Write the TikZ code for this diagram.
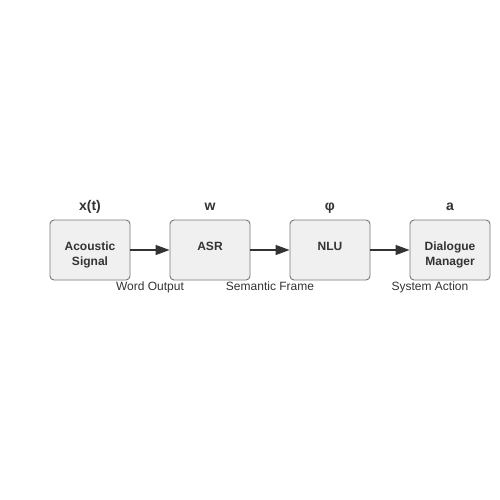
\documentclass[tikz,border=0pt]{standalone}
\usepackage{fontspec}
\setmainfont{Liberation Sans}
\usetikzlibrary{arrows.meta}
\definecolor{boxfill}{HTML}{F0F0F0}
\definecolor{boxline}{HTML}{777777}
\definecolor{ink}{HTML}{333333}
\begin{document}
\begin{tikzpicture}[x=1pt,y=-1pt,
  blk/.style={draw=boxline, fill=boxfill, rounded corners=4pt, line width=0.9pt, minimum width=80pt, minimum height=60pt, inner sep=0pt},
  blktext/.style={anchor=base, align=center, font=\fontsize{12}{15}\selectfont\bfseries, text=ink, inner sep=0pt},
  sym/.style={anchor=base, font=\fontsize{14}{16}\selectfont\bfseries, text=ink, inner sep=0pt},
  captxt/.style={anchor=base, font=\fontsize{12}{14}\selectfont, text=ink, inner sep=0pt},
  arr/.style={draw=ink, line width=1.3pt, -{Triangle[length=14pt,width=10pt]}}]
\useasboundingbox (0,0) rectangle (500,500);
\fill[white] (0,0) rectangle (500,500);
\node[blk] (b1) at (90,250) {};
\node[blk] (b2) at (210,250) {};
\node[blk] (b3) at (330,250) {};
\node[blk] (b4) at (450,250) {};
\node[blktext] (t1) at (90,265) {Acoustic\\Signal};
\node[blktext] (t2) at (210,250) {ASR};
\node[blktext] (t3) at (330,250) {NLU};
\node[blktext] (t4) at (450,265) {Dialogue\\Manager};
\node[sym] (s1) at (90,210) {x(t)};
\node[sym] (s2) at (210,210) {w};
\node[sym] (s3) at (330,210) {φ};
\node[sym] (s4) at (450,210) {a};
\node[captxt] (c1) at (150,290.5) {Word Output};
\node[captxt] (c2) at (270,290.5) {Semantic Frame};
\node[captxt] (c3) at (430,290.5) {System Action};
\draw[arr] (b1.east) -- (b2.west);
\draw[arr] (b2.east) -- (b3.west);
\draw[arr] (b3.east) -- (b4.west);
\end{tikzpicture}
\end{document}
